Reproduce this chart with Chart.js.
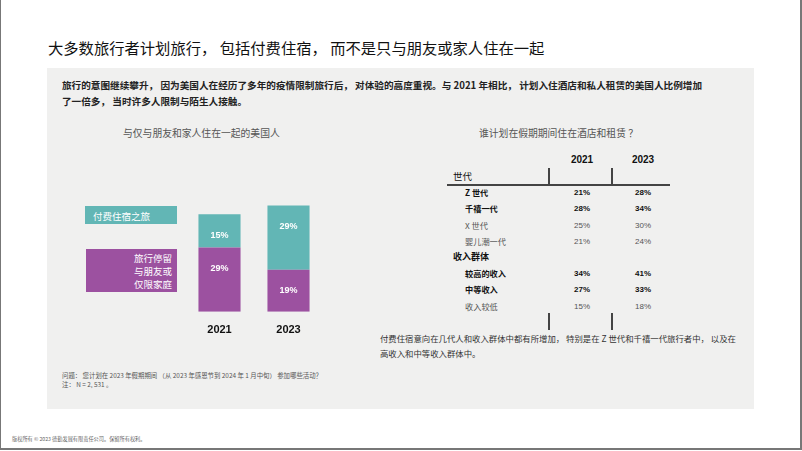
<!DOCTYPE html>
<html>
<head>
<meta charset="utf-8">
<script src="https://cdn.jsdelivr.net/npm/chart.js@4.4.1/dist/chart.umd.min.js"></script>
<style>
  html, body { margin: 0; padding: 0; background: #fff; }
  body { width: 802px; height: 451px; position: relative; overflow: hidden;
         font-family: "Noto Sans CJK SC", "Liberation Sans", sans-serif; }
  .frame { position: absolute; left: 0; top: 0; width: 799px; height: 448px;
           border-left: 1px solid #777; border-right: 2px solid #777; border-bottom: 2px solid #777; }
  .abs { position: absolute; white-space: nowrap; }
  .panel { position: absolute; left: 47px; top: 68px; width: 707px; height: 341px; background: #f0f0ef; }
  .title { left: 48px; top: 36px; font-size: 15.3px; color: #111; }
  .para { left: 62px; top: 77px; font-size: 9.65px; line-height: 16px; color: #222; font-weight: 700; }
  .sub { font-size: 9.8px; color: #555; top: 126px; }
  .lg { position: absolute; color: #fff; font-size: 9.5px; }
  .th { font-family: "Liberation Sans", Arial, sans-serif; font-weight: 700; font-size: 10px; color: #111; top: 154px; transform: translateX(-50%); }
  .row { font-size: 8.2px; transform: translateY(-50%); }
  .val { font-family: "Liberation Sans", Arial, sans-serif; font-size: 8px; transform: translate(-50%, -50%); }
  .b { font-weight: 700; color: #111; }
  .n { color: #555; }
  .vl { position: absolute; width: 1.5px; background: #444; }
  .note { font-size: 8.4px; line-height: 15px; color: #333; left: 380px; top: 331px; }
  .foot { font-size: 6.4px; line-height: 9px; color: #555; left: 62px; top: 371px; }
  .copy { font-size: 5.2px; color: #666; left: 12px; top: 435px; }
</style>
</head>
<body>
<div class="frame"></div>
<div class="abs title">大多数旅行者计划旅行， 包括付费住宿， 而不是只与朋友或家人住在一起</div>
<div class="panel"></div>
<div class="abs para">旅行的意图继续攀升， 因为美国人在经历了多年的疫情限制旅行后， 对体验的高度重视。与 2021 年相比， 计划入住酒店和私人租赁的美国人比例增加<br>了一倍多， 当时许多人限制与陌生人接触。</div>

<div class="abs sub" style="left:123px;">与仅与朋友和家人住在一起的美国人</div>
<div class="abs sub" style="left:479px;">谁计划在假期期间住在酒店和租赁 ？</div>

<!-- legend boxes -->
<div class="lg" style="left:85px;top:206px;width:92px;height:18px;background:#62b6b5;">
  <span style="position:absolute;left:8px;top:3px;">付费住宿之旅</span>
</div>
<div class="lg" style="left:86px;top:249px;width:91px;height:43px;background:#9c51a0;">
  <span style="position:absolute;right:5px;top:3px;text-align:right;line-height:13px;">旅行停留<br>与朋友或<br>仅限家庭</span>
</div>

<canvas id="bars" width="138" height="151" style="position:absolute;left:185px;top:190px;"></canvas>

<div id="table"></div>

<div class="abs note">付费住宿意向在几代人和收入群体中都有所增加， 特别是在 Z 世代和千禧一代旅行者中， 以及在<br>高收入和中等收入群体中。</div>
<div class="abs foot">问题： 您计划在 2023 年假期期间 （从 2023 年感恩节到 2024 年 1 月中旬） 参加哪些活动？<br>注： N = 2, 531 。</div>
<div class="abs copy">版权所有 © 2023 德勤发展有限责任公司。保留所有权利。</div>

<script>
// bar chart data
var years = ["2021", "2023"];
var withFriendsFamily = [29, 19];
var paidLodging = [15, 29];

// table data
var tableYears = ["2021", "2023"];
var genLabels = ["Z 世代", "千禧一代", "X 世代", "婴儿潮一代"];
var gen2021 = [21, 28, 25, 21];
var gen2023 = [28, 34, 30, 24];
var genBold = [true, true, false, false];
var incLabels = ["较高的收入", "中等收入", "收入较低"];
var inc2021 = [34, 27, 15];
var inc2023 = [41, 33, 18];
var incBold = [true, true, false];

var valueLabels = {
  id: "valueLabels",
  afterDatasetsDraw: function(chart) {
    var ctx = chart.ctx;
    ctx.save();
    ctx.fillStyle = "#fff";
    ctx.font = "bold 9px 'Liberation Sans', Arial, sans-serif";
    ctx.textAlign = "center";
    ctx.textBaseline = "middle";
    chart.data.datasets.forEach(function(ds, i) {
      chart.getDatasetMeta(i).data.forEach(function(bar, j) {
        ctx.fillText(ds.data[j] + "%", bar.x, bar.y + 21);
      });
    });
    ctx.restore();
  }
};

new Chart(document.getElementById("bars").getContext("2d"), {
  type: "bar",
  data: {
    labels: years,
    datasets: [
      { label: "旅行停留与朋友或仅限家庭", data: withFriendsFamily, backgroundColor: "#9c51a0" },
      { label: "付费住宿之旅", data: paidLodging, backgroundColor: "#62b6b5" }
    ]
  },
  options: {
    responsive: false,
    animation: false,
    devicePixelRatio: 1,
    categoryPercentage: 1,
    barPercentage: 0.61,
    layout: { padding: 0 },
    plugins: { legend: { display: false }, tooltip: { enabled: false } },
    scales: {
      x: {
        stacked: true,
        grid: { display: false },
        border: { display: false },
        ticks: { padding: 4, color: "#111", font: { family: "'Liberation Sans', Arial, sans-serif", size: 11, weight: "bold" } }
      },
      y: { stacked: true, display: false, min: 0, max: 55 }
    }
  },
  plugins: [valueLabels]
});

// table
var t = document.getElementById("table");
var html = "";
var colX = [582, 643];
tableYears.forEach(function(y, i) {
  html += '<div class="abs th" style="left:' + colX[i] + 'px;">' + y + '</div>';
});
html += '<div class="abs row b" style="left:453px;top:176px;font-size:9.5px;font-weight:400;">世代</div>';
html += '<div class="vl" style="left:548px;top:168px;height:17px;"></div>';
html += '<div class="vl" style="left:611px;top:168px;height:17px;"></div>';
html += '<div style="position:absolute;left:447px;top:184px;width:223px;height:1.5px;background:#444;"></div>';
function rows(labels, a, b, bold, y0) {
  labels.forEach(function(l, i) {
    var y = y0 + i * 16.3;
    var c = bold[i] ? "b" : "n";
    html += '<div class="abs row ' + c + '" style="left:465px;top:' + y + 'px;">' + l + '</div>';
    html += '<div class="abs val ' + c + '" style="left:' + colX[0] + 'px;top:' + y + 'px;">' + a[i] + '%</div>';
    html += '<div class="abs val ' + c + '" style="left:' + colX[1] + 'px;top:' + y + 'px;">' + b[i] + '%</div>';
  });
}
rows(genLabels, gen2021, gen2023, genBold, 192);
html += '<div class="abs row b" style="left:453px;top:256px;font-size:9px;">收入群体</div>';
rows(incLabels, inc2021, inc2023, incBold, 273);
html += '<div class="vl" style="left:548px;top:313px;height:17px;"></div>';
html += '<div class="vl" style="left:611px;top:313px;height:17px;"></div>';
t.innerHTML = html;
</script>
</body>
</html>
